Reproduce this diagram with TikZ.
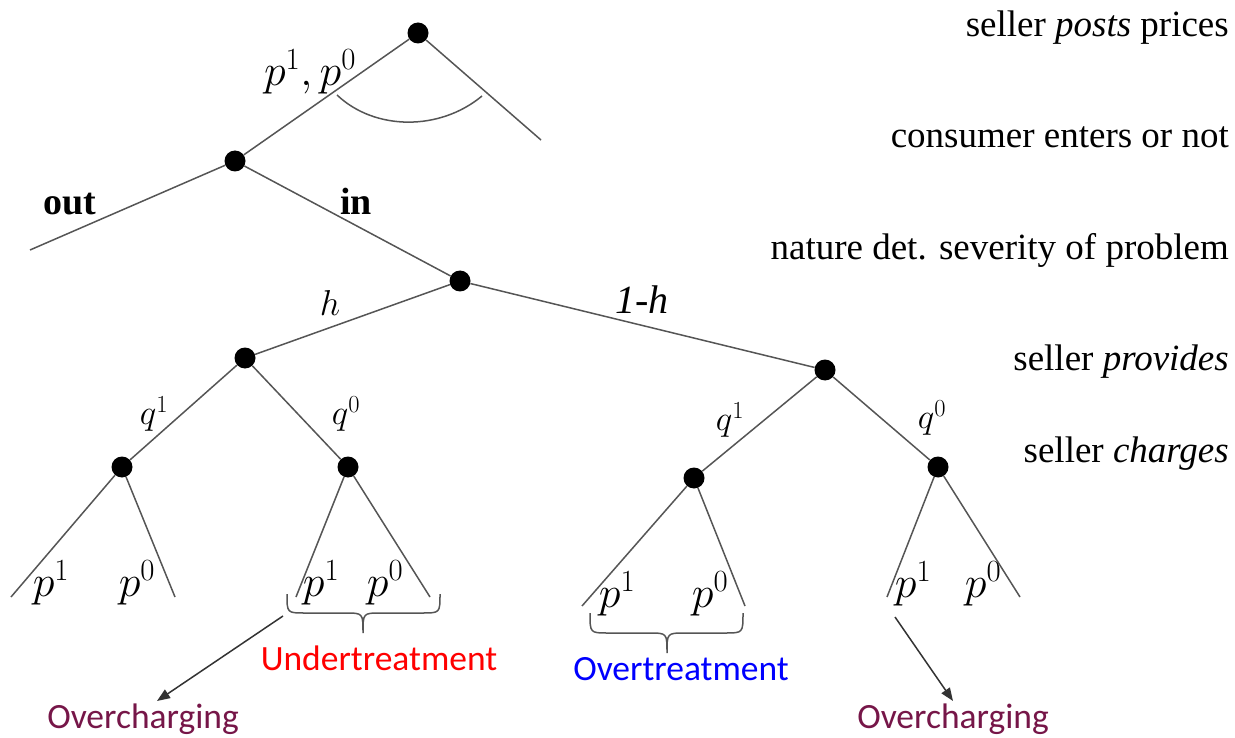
\RequirePackage{fix-cm}
\documentclass[tikz,border=0pt]{standalone}
\usepackage[no-math]{fontspec}
\setmainfont{Liberation Serif}
\newfontfamily\timesf{Liberation Serif}
\newfontfamily\calib{Carlito}
\usetikzlibrary{arrows.meta}
\definecolor{edgegray}{RGB}{85,85,85}
\definecolor{ochg}{RGB}{118,22,72}
\tikzset{
  dot/.style={circle,fill=black,draw=none,minimum size=21pt,inner sep=0pt},
  edge/.style={draw=edgegray,line width=1.5pt},
  stage/.style={anchor=base east,inner sep=0pt,font=\timesf\fontsize{37}{40}\selectfont},
  plab/.style={inner sep=0pt,font=\fontsize{44}{48}\selectfont},
  qlab/.style={inner sep=0pt,font=\fontsize{35}{38}\selectfont},
  act/.style={anchor=base,inner sep=0pt,font=\timesf\fontsize{38}{40}\selectfont\bfseries},
  effect/.style={anchor=base,inner sep=0pt,font=\calib\fontsize{35.5}{38}\selectfont},
  bracestyle/.style={draw=edgegray,line width=1.5pt},
  arr/.style={draw=black!80,line width=1.5pt,-{Triangle[length=13pt,width=10pt]}}
}
\begin{document}
\begin{tikzpicture}[x=1pt,y=-1pt]
\useasboundingbox (0,0) rectangle (1235,738);
% decision nodes
\node[dot] (A) at (418,33) {};
\node[dot] (B) at (235,161) {};
\node[dot] (C) at (460,281) {};
\node[dot] (D) at (245,358) {};
\node[dot] (E) at (825,370) {};
\node[dot] (F) at (122,467) {};
\node[dot] (G) at (348,467) {};
\node[dot] (H) at (694,478) {};
\node[dot] (I) at (938,467) {};
% terminal points
\coordinate (Ar) at (541,140);
\coordinate (Bo) at (30,250);
\coordinate (F1) at (11,597);
\coordinate (F0) at (175,597);
\coordinate (G1) at (296,597);
\coordinate (G0) at (430,597);
\coordinate (H1) at (582,606);
\coordinate (H0) at (745,606);
\coordinate (I1) at (887,597);
\coordinate (I0) at (1020,597);
% edges
\draw[edge] (A) -- (B);
\draw[edge] (A) -- (Ar);
\draw[edge] (B) -- (Bo);
\draw[edge] (B) -- (C);
\draw[edge] (C) -- (D);
\draw[edge] (C) -- (E);
\draw[edge] (D) -- (F);
\draw[edge] (D) -- (G);
\draw[edge] (E) -- (H);
\draw[edge] (E) -- (I);
\draw[edge] (F) -- (F1);
\draw[edge] (F) -- (F0);
\draw[edge] (G) -- (G1);
\draw[edge] (G) -- (G0);
\draw[edge] (H) -- (H1);
\draw[edge] (H) -- (H0);
\draw[edge] (I) -- (I1);
\draw[edge] (I) -- (I0);
% information arc at the root
\coordinate (arcL) at (337,95);
\coordinate (arcR) at (482,96);
\draw[edge] (arcL) .. controls (375,131) and (440,131) .. (arcR);
% edge labels
\node[plab] (lp) at (310,72) {$p^1, p^0$};
\node[act] (lout) at (70,215) {out};
\node[act] (lin) at (356,215) {in};
\node[inner sep=0pt,font=\fontsize{36}{40}\selectfont] (lh) at (330,303) {$h$};
\node[anchor=base,inner sep=0pt,font=\timesf\fontsize{40}{44}\selectfont\itshape] (l1h) at (642,313) {1-h};
\node[qlab] (q1a) at (154,414) {$q^1$};
\node[qlab] (q0a) at (346,414) {$q^0$};
\node[qlab] (q1b) at (730,420) {$q^1$};
\node[qlab] (q0b) at (932,418) {$q^0$};
\node[plab] (pF1) at (51,583) {$p^1$};
\node[plab] (pF0) at (137,583) {$p^0$};
\node[plab] (pG1) at (321,583) {$p^1$};
\node[plab] (pG0) at (385,583) {$p^0$};
\node[plab] (pH1) at (617,594) {$p^1$};
\node[plab] (pH0) at (710,594) {$p^0$};
\node[plab] (pI1) at (913,584) {$p^1$};
\node[plab] (pI0) at (983,584) {$p^0$};
% stage descriptions
\node[stage] (s1) at (1229,37) {seller \textit{posts} prices};
\node[stage] (s2) at (1229,148) {consumer enters or not};
\node[stage] (s3) at (1229,260) {nature det. severity of problem};
\node[stage] (s4) at (1229,370) {seller \textit{provides}};
\node[stage] (s5) at (1229,462) {seller \textit{charges}};
% braces
\draw[bracestyle] (287,594) .. controls (287,613) .. (305,613) -- (345,613)
  .. controls (363,613) .. (363,633) .. controls (363,613) .. (381,613)
  -- (422,613) .. controls (440,613) .. (440,594);
\draw[bracestyle] (590,613) .. controls (590,633) .. (608,633) -- (649,633)
  .. controls (667,633) .. (667,653) .. controls (667,633) .. (685,633)
  -- (725,633) .. controls (743,633) .. (743,613);
% effects
\node[effect,text=red] (under) at (379,670) {Undertreatment};
\node[effect,text=blue] (over) at (681,680) {Overtreatment};
\node[effect,text=ochg] (oc1) at (143,728) {Overcharging};
\node[effect,text=ochg] (oc2) at (953,728) {Overcharging};
% arrows
\coordinate (a1s) at (283,616);
\coordinate (a1e) at (157,701);
\coordinate (a2s) at (895,617);
\coordinate (a2e) at (953,701);
\draw[arr] (a1s) -- (a1e);
\draw[arr] (a2s) -- (a2e);
\end{tikzpicture}
\end{document}
